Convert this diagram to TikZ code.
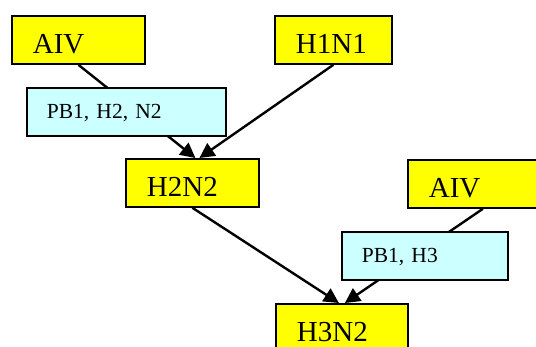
\documentclass[tikz,border=0pt]{standalone}
\usepackage{fontspec}
\setmainfont{Liberation Serif}
\usetikzlibrary{arrows.meta}

\newcommand\strainsize{\fontsize{29}{31}\selectfont}
\newcommand\genesize{\fontsize{21.5}{23}\selectfont}
\definecolor{strainyellow}{HTML}{FFFF00}
\definecolor{genecyan}{HTML}{CCFFFF}

\tikzset{
    strain/.style={draw, fill=strainyellow, line width=1.8pt, anchor=north west,
        inner xsep=21pt, inner ysep=0pt, text height=38pt, text depth=10pt,
        align=left, font=\strainsize},
    genes/.style={draw, fill=genecyan, line width=1.8pt, anchor=north west,
        inner xsep=20pt, inner ysep=0pt, text height=31pt, text depth=17pt,
        align=left, font=\genesize},
    flow/.style={-{Triangle[length=15pt,width=15pt]}, line width=2.4pt}
}

\begin{document}
\begin{tikzpicture} [x=1pt, y=-1pt]
        \clip (0,0) rectangle (536,347);

        \node (aiv1) [strain, text width=91pt] at (11,15) {AIV};
        \node (h1n1) [strain, text width=75pt] at (274,15) {H1N1};
        \node (h2n2) [strain, text width=91pt] at (125,158) {H2N2};
        \node (aiv2) [strain, text width=108pt] at (407,159) {AIV};
        \node (h3n2) [strain, text width=90pt] at (275,303) {H3N2};

        \path [flow] (aiv1.south) edge ([xshift=3pt]h2n2.north);
        \path [flow] (h1n1.south) edge ([xshift=7pt]h2n2.north);
        \path [flow] (h2n2.south) edge ([xshift=-3pt]h3n2.north);
        \path [flow] (aiv2.south) edge ([xshift=3pt]h3n2.north);

        % gene segments sit on top of the lines
        \node (segA) [genes, text width=159pt] at (26,87) {PB1, H2, N2};
        \node (segB) [genes, text width=126pt] at (341,231) {PB1, H3};

    \end{tikzpicture}
\end{document}
